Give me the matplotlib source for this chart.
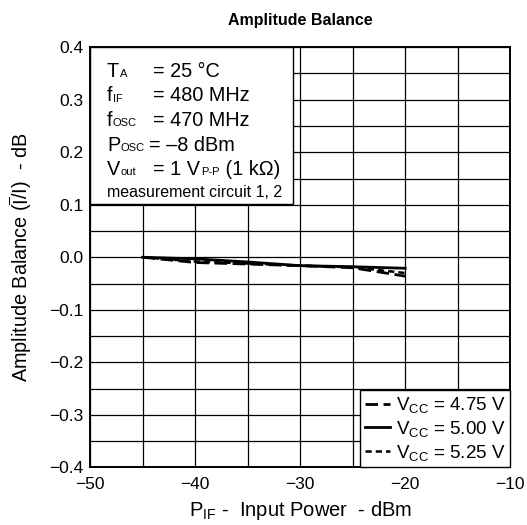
import matplotlib.pyplot as plt
from matplotlib.patches import Rectangle

plt.rcParams['font.family'] = ['Liberation Sans', 'DejaVu Sans']
plt.rcParams['mathtext.fontset'] = 'custom'
plt.rcParams['mathtext.rm'] = 'Liberation Sans'
plt.rcParams['mathtext.it'] = 'Liberation Sans:italic'

# data
p_in = [-45, -40, -35, -30, -25, -20]
bal_475 = [0.0, -0.010, -0.013, -0.016, -0.020, -0.036]
bal_500 = [0.0, -0.003, -0.009, -0.016, -0.018, -0.021]
bal_525 = [0.0, -0.008, -0.012, -0.016, -0.019, -0.030]

x_ticks = [-50, -40, -30, -20, -10]
y_ticks = [0.4, 0.3, 0.2, 0.1, 0.0, -0.1, -0.2, -0.3, -0.4]

fig = plt.figure(figsize=(5.27, 5.25), dpi=100)
ax = fig.add_axes([0.171, 0.110, 0.797, 0.800])

ax.set_xlim(-50, -10)
ax.set_ylim(-0.4, 0.4)
ax.set_xticks(x_ticks)
ax.set_yticks(y_ticks)
ax.set_xticks(range(-50, -9, 5), minor=True)
ax.set_yticks([i * 0.05 for i in range(-8, 9)], minor=True)
ax.tick_params(which='both', length=0, labelsize=12.5)
ax.tick_params(axis='x', pad=7)
ax.tick_params(axis='y', pad=5)
ax.grid(which='both', color='black', linewidth=0.9)
ax.set_axisbelow(True)
for s in ax.spines.values():
    s.set_linewidth(1.4)

ax.plot(p_in, bal_475, color='black', lw=2.0, dashes=(4.5, 2), label=r'V$_{\mathrm{CC}}$ = 4.75 V')
ax.plot(p_in, bal_500, color='black', lw=2.0, label=r'V$_{\mathrm{CC}}$ = 5.00 V')
ax.plot(p_in, bal_525, color='black', lw=1.8, dashes=(2.5, 1.6), label=r'V$_{\mathrm{CC}}$ = 5.25 V')

leg = ax.legend(loc='lower right', fontsize=13.5, frameon=True, fancybox=False,
                edgecolor='black', framealpha=1, borderaxespad=0,
                handlelength=1.35, handletextpad=0.3, labelspacing=0.2,
                borderpad=0.25)
leg.get_frame().set_linewidth(1.0)

# conditions box
ax.add_patch(Rectangle((-50, 0.101), 19.33, 0.299, facecolor='white',
                       edgecolor='black', lw=1.0, zorder=3))

big = 14.3
small = 8
lift = 0.21 * (big - small)  # keep the small text on the main baseline

cond = [('T', 'A', '= 25 \u00b0C'),
        ('f', 'IF', '= 480 MHz'),
        ('f', 'OSC', '= 470 MHz'),
        ('P', 'OSC', '= \u20138 dBm'),
        ('V', 'out', '= 1 V'),
        ]
y0 = 0.3434
dy = 0.0467
for i, (main, sub, val) in enumerate(cond):
    y = y0 - i * dy
    t = ax.text(-48.4, y, main, fontsize=big, va='baseline', zorder=4)
    ax.annotate(sub, xy=(1, 0), xycoords=t, fontsize=small, va='bottom',
                xytext=(0.3, lift), textcoords='offset points', zorder=4)
    xv = -44.4 if main == 'P' else -44.0
    v = ax.text(xv, y, val, fontsize=big, va='baseline', zorder=4)
    if main == 'V':
        s2 = ax.annotate('P-P', xy=(1, 0), xycoords=v, fontsize=small, va='bottom',
                         xytext=(1, lift), textcoords='offset points', zorder=4)
        ax.annotate(' (1 k\u03a9)', xy=(1, 0), xycoords=s2, fontsize=big,
                    va='bottom', xytext=(0, -lift), textcoords='offset points', zorder=4)
ax.text(-48.4, 0.1152, 'measurement circuit 1, 2', fontsize=11.5,
        va='baseline', zorder=4)

ax.set_xlabel(r'P$_{\mathrm{IF}}$ -  Input Power  - dBm', fontsize=14.5, labelpad=5)
ax.set_ylabel(r'Amplitude Balance ($\overline{\mathrm{I}}$/I)  - dB', fontsize=14.3, labelpad=11)
ax.set_title('Amplitude Balance', fontsize=11.5, fontweight='bold', pad=16)

fig.savefig('out.png', dpi=100)
